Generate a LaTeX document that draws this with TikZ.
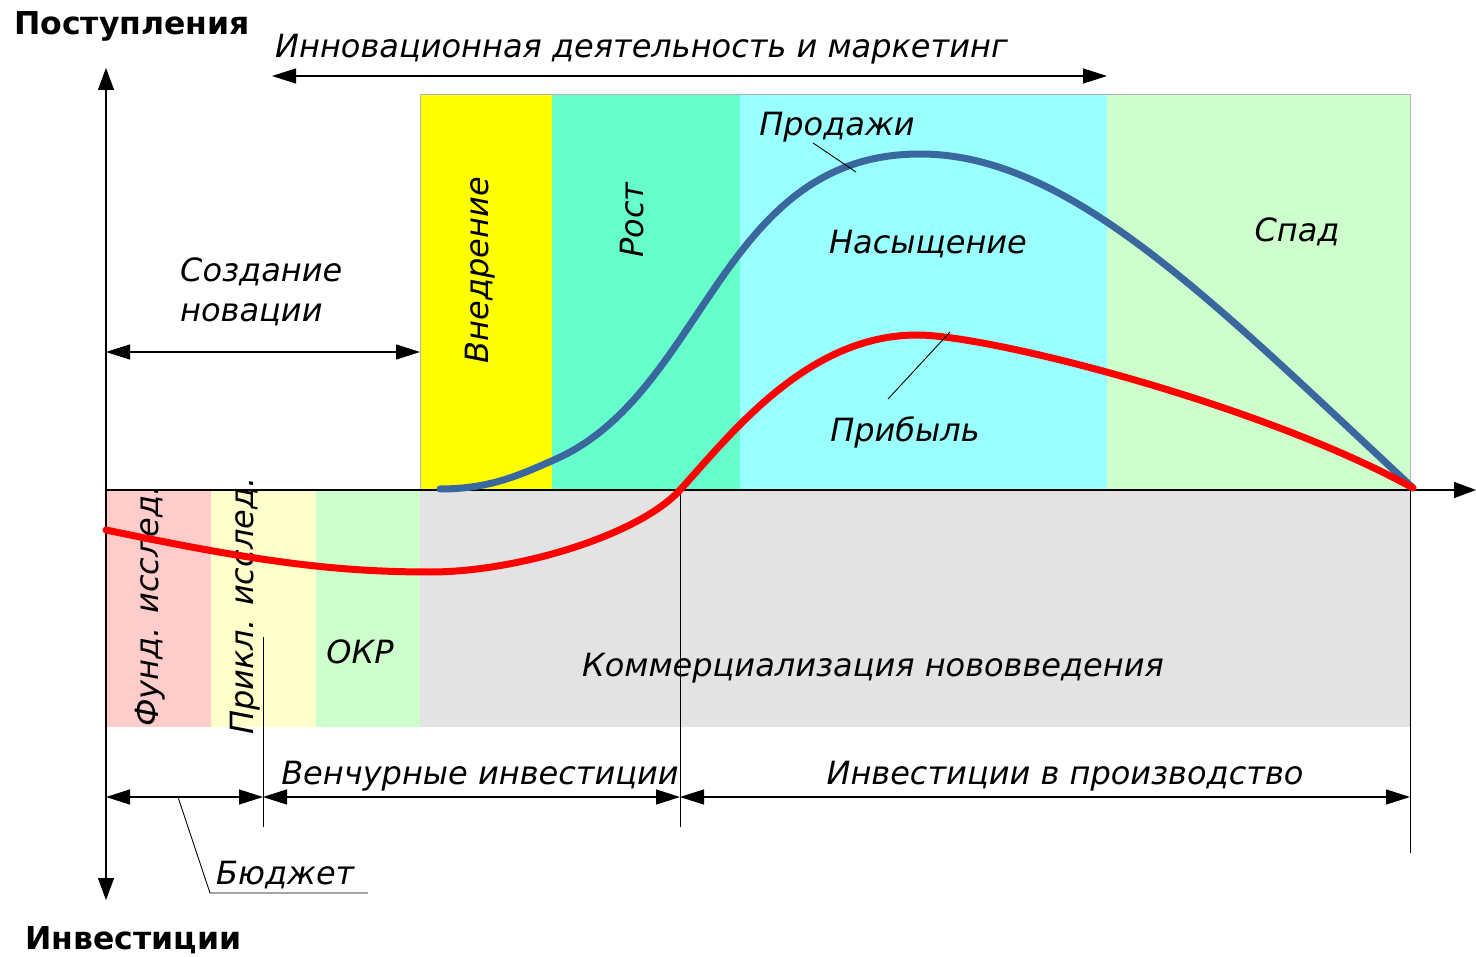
\documentclass[tikz,border=0pt]{standalone}
\usepackage{fontspec}
\setmainfont{DejaVu Sans}
\usetikzlibrary{arrows.meta}

\definecolor{cYellow}{HTML}{FFFF00}
\definecolor{cTeal}{HTML}{66FFCC}
\definecolor{cCyan}{HTML}{99FFFF}
\definecolor{cLightGreen}{HTML}{CCFFCC}
\definecolor{cPink}{HTML}{FFCCCC}
\definecolor{cPaleYellow}{HTML}{FFFFCC}
\definecolor{cGrey}{HTML}{E3E3E3}
\definecolor{cBorder}{HTML}{B4B4B4}
\definecolor{cSales}{HTML}{3A689E}
\definecolor{cProfit}{HTML}{FF0000}

\begin{document}
\begin{tikzpicture}[x=1pt,y=-1pt,
  lbl/.style={font=\fontsize{32}{40}\selectfont\itshape, inner sep=0pt},
  ttl/.style={font=\fontsize{31.5}{36}\selectfont\bfseries, inner sep=0pt},
  axis/.style={line width=1.5pt, -{Triangle[length=22pt,width=16pt]}},
  dim/.style={line width=1.3pt, {Triangle[length=24pt,width=15pt]}-{Triangle[length=24pt,width=15pt]}},
  guide/.style={line width=1pt},
  leader/.style={line width=0.9pt},
  curve/.style={line width=7pt, line cap=round, line join=round}
]
\useasboundingbox (0,0) rectangle (1476,957);

% phase bands above the time axis
\fill[cYellow]     (420,95) rectangle (552,490);
\fill[cTeal]       (552,95) rectangle (740,490);
\fill[cCyan]       (740,95) rectangle (1107,490);
\fill[cLightGreen] (1107,95) rectangle (1410,490);
\draw[cBorder, line width=1pt] (420,490) |- (1410,95) -- (1410,490);

% phase bands below the time axis
\fill[cPink]       (106,490) rectangle (211,727);
\fill[cPaleYellow] (211,490) rectangle (316,727);
\fill[cLightGreen] (316,490) rectangle (420,727);
\fill[cGrey]       (420,490) rectangle (1410,727);

% axes
\coordinate (O) at (106,490);
\coordinate (ytop) at (106,68);
\coordinate (ybot) at (106,900);
\coordinate (xend) at (1476,490);
\draw[axis] (O) -- (ytop);
\draw[axis] (O) -- (ybot);
\draw[axis] (O) -- (xend);

% extension lines
\coordinate (g1a) at (263,637);  \coordinate (g1b) at (263,827);
\coordinate (g2a) at (680,490);  \coordinate (g2b) at (680,827);
\coordinate (g3a) at (1410,490); \coordinate (g3b) at (1410,853);
\draw[guide] (g1a) -- (g1b);
\draw[guide] (g2a) -- (g2b);
\draw[guide] (g3a) -- (g3b);

% dimension arrows
\coordinate (t0) at (272,76);  \coordinate (t1) at (1107,76);
\coordinate (c0) at (106,352); \coordinate (c1) at (420,352);
\coordinate (b0) at (106,797); \coordinate (b1) at (263,797);
\coordinate (b2) at (680,797); \coordinate (b3) at (1410,797);
\draw[dim] (t0) -- (t1);
\draw[dim] (c0) -- (c1);
\draw[dim] (b0) -- (b1);
\draw[dim] (b1) -- (b2);
\draw[dim] (b2) -- (b3);

% labels
\node[ttl, anchor=west] (post) at (14,26) {Поступления};
\node[ttl, anchor=west] (invest) at (25,940) {Инвестиции};
\node[lbl, anchor=west] (innov) at (275,49) {Инновационная деятельность и маркетинг};
\node[lbl] (sales) at (837,127) {Продажи};
\node[lbl, rotate=90] (intro) at (480,270) {Внедрение};
\node[lbl, rotate=90] (growth) at (632,220) {Рост};
\node[lbl] (sat) at (928,244) {Насыщение};
\node[lbl] (decl) at (1297,232) {Спад};
\node[lbl, align=left, anchor=west] (create) at (180,292) {Создание\\новации};
\node[lbl] (profit) at (905,432) {Прибыль};
\node[lbl, rotate=90] (fund) at (150,606) {Фунд. исслед.};
\node[lbl, rotate=90] (appl) at (245,606) {Прикл. исслед.};
\node[lbl] (okr) at (360,652) {ОКР};
\node[lbl] (comm) at (873,668) {Коммерциализация нововведения};
\node[lbl] (vent) at (480,776) {Венчурные инвестиции};
\node[lbl] (prod) at (1065,776) {Инвестиции в производство};
\node[lbl, anchor=south west] (budget) at (216,889) {Бюджет};

% sales curve
\draw[curve, cSales] (440,489)
  .. controls (490,489) and (520,475) .. (556,459)
  .. controls (706,392) and (720,154) .. (920,154)
  .. controls (1070,154) and (1213,302) .. (1413,488);
% profit curve
\draw[curve, cProfit] (106,530)
  .. controls (250,560) and (330,572) .. (430,572)
  .. controls (520,572) and (640,534) .. (680,490)
  .. controls (730,435) and (807,335) .. (917,335)
  .. controls (990,335) and (1263,405) .. (1413,488);

% leader lines
\coordinate (s1) at (813,143); \coordinate (s2) at (856,172);
\draw[leader] (s1) -- (s2);
\coordinate (p1) at (888,399); \coordinate (p2) at (950,332);
\draw[leader] (p1) -- (p2);
\coordinate (u1) at (178,797); \coordinate (u2) at (210,893); \coordinate (u3) at (368,893);
\draw[leader] (u1) -- (u2) -- (u3);
\end{tikzpicture}
\end{document}
